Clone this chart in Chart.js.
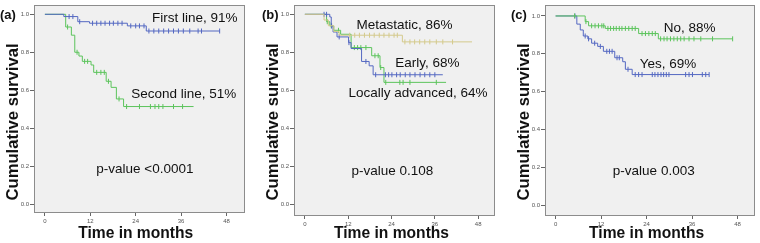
<!DOCTYPE html>
<html>
<head>
<meta charset="utf-8">
<script src="https://cdn.jsdelivr.net/npm/chart.js@4.4.1/dist/chart.umd.min.js"></script>
<style>
  html, body { margin: 0; padding: 0; background: #fff; }
  #wrap { position: relative; width: 760px; height: 243px; overflow: hidden; }
  canvas { position: absolute; top: 0; }
</style>
</head>
<body>
<div id="wrap">
  <canvas id="chartA" width="250" height="243" style="left:0px"></canvas>
  <canvas id="chartB" width="250" height="243" style="left:250px"></canvas>
  <canvas id="chartC" width="260" height="243" style="left:500px"></canvas>
</div>
<script>
// tick labels
const xTickValues = [0, 12, 24, 36, 48];
const yTickValues = [0, 0.2, 0.4, 0.6, 0.8, 1.0];

// (a) first line vs second line: event times / survival, censor times
const aFirstTime = [0, 5, 8.7, 11.8, 21.8, 26.8, 46.2];
const aFirstSurv = [1, 0.988, 0.961, 0.953, 0.939, 0.912, 0.912];
const aFirstCens = [6.4, 7.4, 9.2, 12.6, 13.7, 14.8, 15.9, 17.1, 18.1, 19.3, 20.4, 22.7, 24.0, 25.0, 26.2,
                    27.5, 28.8, 30.1, 31.4, 32.7, 34.0, 35.3, 36.6, 38.3, 40.5, 41.4, 46.2];
const aSecondTime = [0, 5.5, 7.0, 7.9, 9.0, 9.9, 12.2, 12.9, 16.2, 17.5, 18.9, 20.8, 39.3];
const aSecondSurv = [1, 0.933, 0.89, 0.80, 0.78, 0.752, 0.733, 0.694, 0.647, 0.615, 0.554, 0.514, 0.514];
const aSecondCens = [6.0, 8.5, 10.5, 11.3, 13.7, 14.8, 15.7, 16.8, 19.6, 21.6, 25.0, 27.9, 29.1, 30.1, 31.2, 34.0, 36.4];

// (b) metastatic / early / locally advanced
const bMetaTime = [0, 5.3, 6.5, 8.0, 9.5, 27.0, 46.3];
const bMetaSurv = [1, 0.97, 0.94, 0.91, 0.89, 0.855, 0.855];
const bMetaCens = [12.4, 13.8, 15.1, 16.5, 17.9, 19.2, 20.6, 21.9, 23.3, 24.7, 25.6,
                   27.7, 29.1, 30.4, 31.8, 33.2, 34.6, 36.4, 38.2, 40.9];
const bEarlyTime = [0, 6.9, 7.3, 7.8, 8.9, 12.1, 12.8, 15.7, 17.8, 18.9, 38.2];
const bEarlySurv = [1, 0.986, 0.939, 0.907, 0.881, 0.851, 0.82, 0.752, 0.729, 0.682, 0.682];
const bEarlyCens = [5.3, 6.0, 7.4, 9.5, 12.2, 16.9, 19.6, 22.3, 23.2, 24.1, 25.4, 26.4, 27.8, 29.1, 30.5, 31.9, 33.2, 34.6, 36.0];
const bLocalTime = [0, 6.0, 6.9, 8.0, 9.9, 12.8, 18.5, 20.8, 21.9, 39.1];
const bLocalSurv = [1, 0.961, 0.939, 0.916, 0.895, 0.825, 0.782, 0.72, 0.642, 0.642];
const bLocalCens = [6.2, 7.3, 9.3, 13.7, 14.6, 15.5, 16.9, 19.4, 20.3, 21.0, 22.4, 26.3, 27.2, 29.1, 36.4];

// (c) no / yes
const cNoTime = [0, 7.8, 8.7, 13.1, 21.9, 27.1, 46.7];
const cNoSurv = [1, 0.97, 0.948, 0.934, 0.907, 0.879, 0.879];
const cNoCens = [5.0, 8.0, 9.5, 10.4, 11.3, 12.2, 12.7, 13.8, 14.5, 15.3, 16.0, 16.8, 17.5, 18.4, 19.3, 20.2, 21.0,
                 22.8, 23.7, 24.6, 25.5, 26.3, 27.7, 28.6, 29.4, 30.3, 31.2, 32.1, 33.0, 33.9, 35.2, 36.5, 38.3, 41.4, 46.7];
const cYesTime = [0, 5.6, 6.5, 7.3, 8.5, 9.5, 11.1, 12.6, 15.6, 17.7, 18.4, 20.2, 40.5];
const cYesSurv = [1, 0.957, 0.926, 0.894, 0.879, 0.856, 0.839, 0.813, 0.779, 0.758, 0.718, 0.69, 0.69];
const cYesCens = [5.1, 7.8, 8.7, 10.3, 11.8, 13.5, 14.2, 14.9, 16.2, 16.8, 19.1, 21.0, 21.9, 22.8, 25.5, 26.2, 27.0,
                  27.8, 28.5, 29.2, 29.9, 34.3, 35.2, 36.1, 38.7, 39.6, 40.5];

const BLUE = '#5468c2';
const GREEN = '#5cc45c';
const TAN = '#d4ca8c';

// survival level of a curve at time t (last event at or before t)
function survAt(times, survs, t) {
  let s = survs[0];
  for (let i = 0; i < times.length; i++) {
    if (times[i] <= t) s = survs[i];
  }
  return s;
}

function curveDatasets(times, survs, cens, color) {
  return [
    {
      data: times.map((t, i) => ({ x: t, y: survs[i] })),
      showLine: true,
      stepped: true,
      borderColor: color,
      borderWidth: 1,
      pointRadius: 0
    },
    {
      data: cens.map(t => ({ x: t, y: survAt(times, survs, t) })),
      showLine: false,
      pointStyle: 'line',
      rotation: 90,
      pointRadius: 2.5,
      borderColor: color,
      borderWidth: 1
    }
  ];
}

const framePlugin = {
  id: 'frame',
  beforeDraw(chart) {
    const { ctx, chartArea: a } = chart;
    ctx.save();
    ctx.fillStyle = '#f0f0f0';
    ctx.fillRect(a.left, a.top, a.right - a.left, a.bottom - a.top);
    ctx.restore();
  },
  afterDraw(chart) {
    const { ctx, chartArea: a } = chart;
    const o = chart.options.plugins.frame;
    const xs = chart.scales.x, ys = chart.scales.y;
    ctx.save();
    ctx.strokeStyle = '#8c8c8c';
    ctx.lineWidth = 1;
    ctx.strokeRect(a.left + 0.5, a.top + 0.5, a.right - a.left - 1, a.bottom - a.top - 1);

    ctx.fillStyle = '#111';
    ctx.textBaseline = 'middle';
    // annotations
    ctx.font = '13.5px Arial, "Liberation Sans", sans-serif';
    ctx.textAlign = 'left';
    o.notes.forEach(n => {
      ctx.fillText(n.text, xs.getPixelForValue(n.x), ys.getPixelForValue(n.y));
    });
    // panel letter
    ctx.font = 'bold 13px Arial, "Liberation Sans", sans-serif';
    ctx.fillText(o.letter, o.letterX, 15);
    // x title (slightly squeezed like the original)
    ctx.font = 'bold 17px Arial, "Liberation Sans", sans-serif';
    const tw = ctx.measureText('Time in months').width;
    ctx.save();
    ctx.translate(xs.getPixelForValue(24), 233);
    ctx.scale(115 / tw, 1);
    ctx.textAlign = 'center';
    ctx.fillText('Time in months', 0, 0);
    ctx.restore();
    // y title
    ctx.font = 'bold 17px Arial, "Liberation Sans", sans-serif';
    const yw = ctx.measureText('Cumulative survival').width;
    ctx.save();
    ctx.translate(a.left - 21, 122);
    ctx.rotate(-Math.PI / 2);
    ctx.scale(157 / yw, 1);
    ctx.textAlign = 'center';
    ctx.fillText('Cumulative survival', 0, 0);
    ctx.restore();
    ctx.restore();
  }
};

function makePanel(id, p) {
  new Chart(document.getElementById(id).getContext('2d'), {
    type: 'scatter',
    data: { datasets: p.datasets },
    options: {
      responsive: false,
      animation: false,
      devicePixelRatio: 1,
      layout: { padding: { top: p.top, right: p.right, left: 0, bottom: 0 } },
      plugins: {
        legend: { display: false },
        tooltip: { enabled: false },
        frame: { notes: p.notes, letter: p.letter, letterX: p.letterX }
      },
      scales: {
        x: {
          type: 'linear',
          min: p.xMin,
          max: p.xMax,
          afterBuildTicks: s => { s.ticks = xTickValues.map(v => ({ value: v })); },
          afterFit: s => { s.height = p.xH; },
          grid: { drawOnChartArea: false, drawTicks: true, tickLength: 3, color: '#666' },
          border: { display: false },
          ticks: { font: { size: 6, family: 'Arial' }, color: '#555', padding: 2, maxRotation: 0, autoSkip: false,
                   callback: v => String(v) }
        },
        y: {
          type: 'linear',
          min: p.yMin,
          max: p.yMax,
          afterBuildTicks: s => { s.ticks = yTickValues.map(v => ({ value: v })); },
          afterFit: s => { s.width = p.yW; },
          grid: { drawOnChartArea: false, drawTicks: true, tickLength: 4, color: '#666' },
          border: { display: false },
          ticks: { font: { size: 6, family: 'Arial' }, color: '#555', padding: 1, autoSkip: false,
                   callback: v => v.toFixed(1) }
        }
      }
    },
    plugins: [framePlugin]
  });
}

makePanel('chartA', {
  datasets: [
    ...curveDatasets(aFirstTime, aFirstSurv, aFirstCens, BLUE),
    ...curveDatasets(aSecondTime, aSecondSurv, aSecondCens, GREEN)
  ],
  notes: [
    { text: 'First line, 91%', x: 28.3, y: 0.981 },
    { text: 'Second line, 51%', x: 22.8, y: 0.577 },
    { text: 'p-value <0.0001', x: 13.6, y: 0.184 }
  ],
  letter: '(a)', letterX: 0,
  xMin: -2.88, xMax: 52.9, yMin: -0.047, yMax: 1.049,
  top: 4, right: 3, yW: 34, xH: 30
});

makePanel('chartB', {
  datasets: [
    ...curveDatasets(bMetaTime, bMetaSurv, bMetaCens, TAN),
    ...curveDatasets(bEarlyTime, bEarlySurv, bEarlyCens, BLUE),
    ...curveDatasets(bLocalTime, bLocalSurv, bLocalCens, GREEN)
  ],
  notes: [
    { text: 'Metastatic, 86%', x: 14.3, y: 0.944 },
    { text: 'Early, 68%', x: 25.0, y: 0.741 },
    { text: 'Locally advanced, 64%', x: 12.1, y: 0.583 },
    { text: 'p-value 0.108', x: 12.9, y: 0.174 }
  ],
  letter: '(b)', letterX: 12,
  xMin: -3.02, xMax: 52.66, yMin: -0.061, yMax: 1.049,
  top: 4, right: 3, yW: 44, xH: 27
});

makePanel('chartC', {
  datasets: [
    ...curveDatasets(cNoTime, cNoSurv, cNoCens, GREEN),
    ...curveDatasets(cYesTime, cYesSurv, cYesCens, BLUE)
  ],
  notes: [
    { text: 'No, 88%', x: 28.5, y: 0.937 },
    { text: 'Yes, 69%', x: 22.2, y: 0.743 },
    { text: 'p-value 0.003', x: 15.1, y: 0.178 }
  ],
  letter: '(c)', letterX: 11,
  xMin: -2.8, xMax: 52.6, yMin: -0.058, yMax: 1.058,
  top: 3, right: 4, yW: 45, xH: 27
});
</script>
</body>
</html>
